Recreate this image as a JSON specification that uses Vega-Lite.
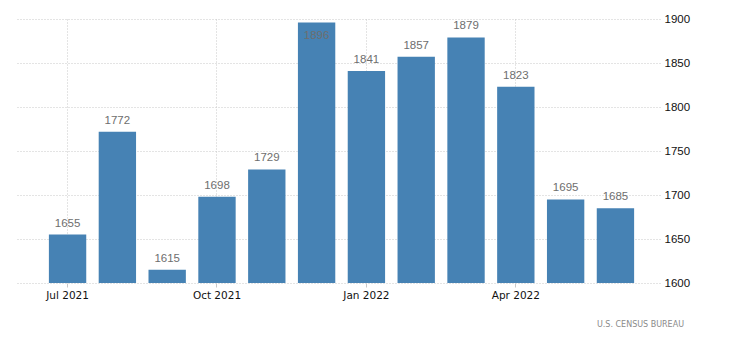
{
  "$schema": "https://vega.github.io/schema/vega-lite/v6.json",
  "width": 645,
  "height": 264,
  "autosize": {"type": "none"},
  "padding": {"left": 15, "top": 19, "right": 70, "bottom": 54},
  "background": "white",
  "config": {"view": {"stroke": null}},
  "title": {
    "text": "U.S. CENSUS BUREAU",
    "orient": "bottom",
    "anchor": "end",
    "frame": "group",
    "fontSize": 8,
    "font": "DejaVu Sans",
    "fontWeight": "normal",
    "color": "#8a8a8a",
    "dx": 24,
    "offset": 20
  },
  "data": {
    "values": [
      {"month": "Jul 2021", "value": 1655},
      {"month": "Aug 2021", "value": 1772},
      {"month": "Sep 2021", "value": 1615},
      {"month": "Oct 2021", "value": 1698},
      {"month": "Nov 2021", "value": 1729},
      {"month": "Dec 2021", "value": 1896},
      {"month": "Jan 2022", "value": 1841},
      {"month": "Feb 2022", "value": 1857},
      {"month": "Mar 2022", "value": 1879},
      {"month": "Apr 2022", "value": 1823},
      {"month": "May 2022", "value": 1695},
      {"month": "Jun 2022", "value": 1685}
    ]
  },
  "encoding": {
    "x": {
      "field": "month",
      "type": "ordinal",
      "sort": null,
      "scale": {"paddingInner": 0.25, "paddingOuter": 0.6, "align": 0.567},
      "axis": {
        "title": null,
        "values": ["Jul 2021", "Oct 2021", "Jan 2022", "Apr 2022"],
        "labelAngle": 0,
        "labelFont": "DejaVu Sans",
        "labelFontSize": 10.5,
        "labelColor": "#111111",
        "labelPadding": 3,
        "domain": false,
        "ticks": true,
        "tickSize": 4,
        "tickColor": "#c8c8c8",
        "grid": true,
        "gridColor": "#c8c8c8",
        "gridDash": [1, 2],
        "gridWidth": 1
      }
    },
    "y": {
      "field": "value",
      "type": "quantitative",
      "scale": {"domain": [1600, 1900], "nice": false, "zero": false},
      "axis": {
        "orient": "right",
        "title": null,
        "format": "d",
        "values": [1600, 1650, 1700, 1750, 1800, 1850, 1900],
        "labelFont": "Liberation Sans",
        "labelFontSize": 11.5,
        "labelColor": "#111111",
        "labelPadding": 4,
        "domain": false,
        "ticks": false,
        "grid": true,
        "gridColor": "#c8c8c8",
        "gridDash": [1, 2],
        "gridWidth": 1
      }
    }
  },
  "layer": [
    {"mark": {"type": "bar", "color": "#4682b4"}, "encoding": {"y2": {"datum": 1600}}},
    {
      "transform": [{"filter": "datum.value < 1890"}],
      "mark": {"type": "text", "baseline": "alphabetic", "dy": -8, "font": "Liberation Sans", "fontSize": 11.5, "color": "#6e6e6e"},
      "encoding": {"text": {"field": "value", "type": "quantitative", "format": "d"}}
    },
    {
      "transform": [{"filter": "datum.value >= 1890"}],
      "mark": {"type": "text", "baseline": "alphabetic", "dy": 16, "font": "Liberation Sans", "fontSize": 11.5, "color": "#6e6e6e"},
      "encoding": {"text": {"field": "value", "type": "quantitative", "format": "d"}}
    }
  ]
}
